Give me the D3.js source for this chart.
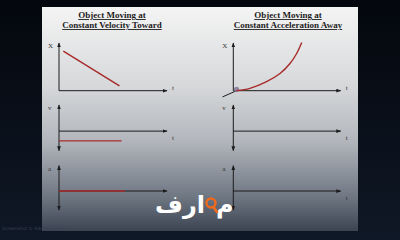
<!DOCTYPE html>
<html>
<head>
<meta charset="utf-8">
<script src="https://cdn.jsdelivr.net/npm/d3@7"></script>
<style>
  html, body { margin: 0; padding: 0; background: #070b13; }
  svg { display: block; }
</style>
</head>
<body>
<div id="chart"></div>
<script>
// data
const tDomain = [0, 10];
const posDomain = [0, 10];
const velDomain = [-3, 4];
const accDomain = [-3, 4];

const leftTitle = ["Object Moving at", "Constant Velocity Toward"];
const rightTitle = ["Object Moving at", "Constant Acceleration Away"];
const axisLabels = ["X", "v", "a"];

// constant velocity toward: x falls linearly
const velTowardT = [0.4, 5.6];
const velTowardX = [8.3, 1.0];
const velTowardV = [-1.5, -1.5];
const velTowardVT = [0, 5.8];
const velTowardAT = [0, 6.1];
const velTowardA = [0, 0];

// constant acceleration away: x curves upward
const accAwayT = [0.3, 1.55, 3.1, 4.35, 5.28, 5.9, 6.37];
const accAwayX = [0, 0.5, 1.9, 3.6, 5.7, 7.8, 10.1];
const tangentT = [-1.0, 0.3];
const tangentX = [-1.3, 0];

const width = 400, height = 240;
const svg = d3.select("#chart").append("svg")
  .attr("width", width).attr("height", height);

const defs = svg.append("defs");
const bg = defs.append("linearGradient").attr("id", "bg")
  .attr("x1", 0).attr("y1", 0).attr("x2", 0).attr("y2", 1);
bg.append("stop").attr("offset", "0%").attr("stop-color", "#04070d");
bg.append("stop").attr("offset", "100%").attr("stop-color", "#0f1826");

const panelGrad = defs.append("linearGradient").attr("id", "panel")
  .attr("x1", 0).attr("y1", 0).attr("x2", 0).attr("y2", 1);
panelGrad.append("stop").attr("offset", "0%").attr("stop-color", "#f4f4f4");
panelGrad.append("stop").attr("offset", "35%").attr("stop-color", "#d6d8da");
panelGrad.append("stop").attr("offset", "60%").attr("stop-color", "#b2b6bc");
panelGrad.append("stop").attr("offset", "85%").attr("stop-color", "#6e7682");
panelGrad.append("stop").attr("offset", "100%").attr("stop-color", "#3c4452");

defs.append("marker").attr("id", "arrow")
  .attr("viewBox", "0 0 8 6")
  .attr("refX", 7).attr("refY", 3)
  .attr("markerUnits", "userSpaceOnUse")
  .attr("markerWidth", 5).attr("markerHeight", 4)
  .attr("orient", "auto-start-reverse")
  .append("path").attr("d", "M0,0 L8,3 L0,6 z").attr("fill", "#1c1c1c");

svg.append("rect").attr("width", width).attr("height", height).attr("fill", "url(#bg)");
svg.append("rect").attr("x", 42).attr("y", 7).attr("width", 316).attr("height", 224)
  .attr("fill", "url(#panel)");

// titles
function drawTitle(lines, cx) {
  lines.forEach((s, i) => {
    svg.append("text")
      .attr("x", cx).attr("y", 18 + i * 10)
      .attr("text-anchor", "middle")
      .attr("font-family", "'Liberation Serif', serif")
      .attr("font-weight", "bold")
      .attr("font-size", 9)
      .attr("text-decoration", "underline")
      .attr("fill", "#1e1e1e")
      .text(s);
  });
}
drawTitle(leftTitle, 112);
drawTitle(rightTitle, 288);

// three rows of graphs in two columns
const rows = [
  { domain: posDomain, range: [90.7, 43], down: false },
  { domain: velDomain, range: [150.7, 105], down: true },
  { domain: accDomain, range: [210, 165.7], down: true }
];
const cols = [[59, 167], [233.3, 340.7]];

const line = d3.line();

function makeGraph(ci, ri, showT = true) {
  const r = rows[ri];
  const x = d3.scaleLinear().domain(tDomain).range(cols[ci]);
  const y = d3.scaleLinear().domain(r.domain).range(r.range);
  const g = svg.append("g");
  const x0 = x(0), y0 = y(0);
  // vertical axis
  g.append("line")
    .attr("x1", x0).attr("x2", x0)
    .attr("y1", r.down ? y(r.domain[0]) : y0)
    .attr("y2", y(r.domain[1]))
    .attr("stroke", "#1c1c1c").attr("stroke-width", 1)
    .attr("marker-end", "url(#arrow)")
    .attr("marker-start", r.down ? "url(#arrow)" : null);
  // time axis
  g.append("line")
    .attr("x1", x0).attr("x2", x(tDomain[1]))
    .attr("y1", y0).attr("y2", y0)
    .attr("stroke", "#1c1c1c").attr("stroke-width", 1)
    .attr("marker-end", "url(#arrow)");
  g.append("text")
    .attr("x", x0 - 11).attr("y", y(r.domain[1]) + 5)
    .attr("font-family", "'Liberation Serif', serif")
    .attr("font-size", 7).attr("fill", "#333")
    .text(axisLabels[ri]);
  if (showT) {
    g.append("text")
      .attr("x", x(tDomain[1]) + 5).attr("y", y0 + (ri === 0 ? -1 : 9))
      .attr("font-family", "'Liberation Serif', serif")
      .attr("font-size", 7).attr("fill", "#333")
      .text("t");
  }
  return { g, x, y };
}

const red = "#a82a2a";

// left column
let gr = makeGraph(0, 0);
gr.g.append("path")
  .attr("d", line(velTowardT.map((t, i) => [gr.x(t), gr.y(velTowardX[i])])))
  .attr("fill", "none").attr("stroke", red).attr("stroke-width", 1.4);
gr = makeGraph(0, 1);
gr.g.append("path")
  .attr("d", line(velTowardVT.map((t, i) => [gr.x(t), gr.y(velTowardV[i])])))
  .attr("fill", "none").attr("stroke", red).attr("stroke-width", 1.4);
// the t label here sits under the logo in the slide
gr = makeGraph(0, 2, false);
gr.g.append("path")
  .attr("d", line(velTowardAT.map((t, i) => [gr.x(t), gr.y(velTowardA[i])])))
  .attr("fill", "none").attr("stroke", red).attr("stroke-width", 1.4);

// right column
gr = makeGraph(1, 0);
gr.g.append("path")
  .attr("d", line(tangentT.map((t, i) => [gr.x(t), gr.y(tangentX[i])])))
  .attr("fill", "none").attr("stroke", "#1c1c1c").attr("stroke-width", 1);
gr.g.append("circle")
  .attr("cx", gr.x(0.3)).attr("cy", gr.y(0.3)).attr("r", 2.6)
  .attr("fill", "#8a7d9c").attr("opacity", 0.9);
gr.g.append("path")
  .attr("d", d3.line().curve(d3.curveCatmullRom)(accAwayT.map((t, i) => [gr.x(t), gr.y(accAwayX[i])])))
  .attr("fill", "none").attr("stroke", red).attr("stroke-width", 1.4);
makeGraph(1, 1);
makeGraph(1, 2);

// logo
const logo = svg.append("g");
logo.append("text")
  .attr("x", 205).attr("y", 213)
  .attr("text-anchor", "end")
  .attr("font-family", "'DejaVu Sans', sans-serif")
  .attr("font-weight", "bold").attr("font-size", 24)
  .attr("fill", "#ffffff")
  .text("ارف");
logo.append("text")
  .attr("x", 216).attr("y", 213)
  .attr("text-anchor", "start")
  .attr("font-family", "'DejaVu Sans', sans-serif")
  .attr("font-weight", "bold").attr("font-size", 24)
  .attr("fill", "#ffffff")
  .text("م");
logo.append("circle").attr("cx", 211).attr("cy", 203).attr("r", 4.5)
  .attr("fill", "none").attr("stroke", "#f26a1b").attr("stroke-width", 2.4);
logo.append("line").attr("x1", 213.5).attr("y1", 207).attr("x2", 217).attr("y2", 212)
  .attr("stroke", "#f26a1b").attr("stroke-width", 2.6).attr("stroke-linecap", "round");

// watermark
svg.append("text")
  .attr("x", 2).attr("y", 230)
  .attr("font-family", "'DejaVu Sans', sans-serif")
  .attr("font-size", 4.5).attr("fill", "#3a4456")
  .text("Screenshot © Educator.com");
</script>
</body>
</html>
